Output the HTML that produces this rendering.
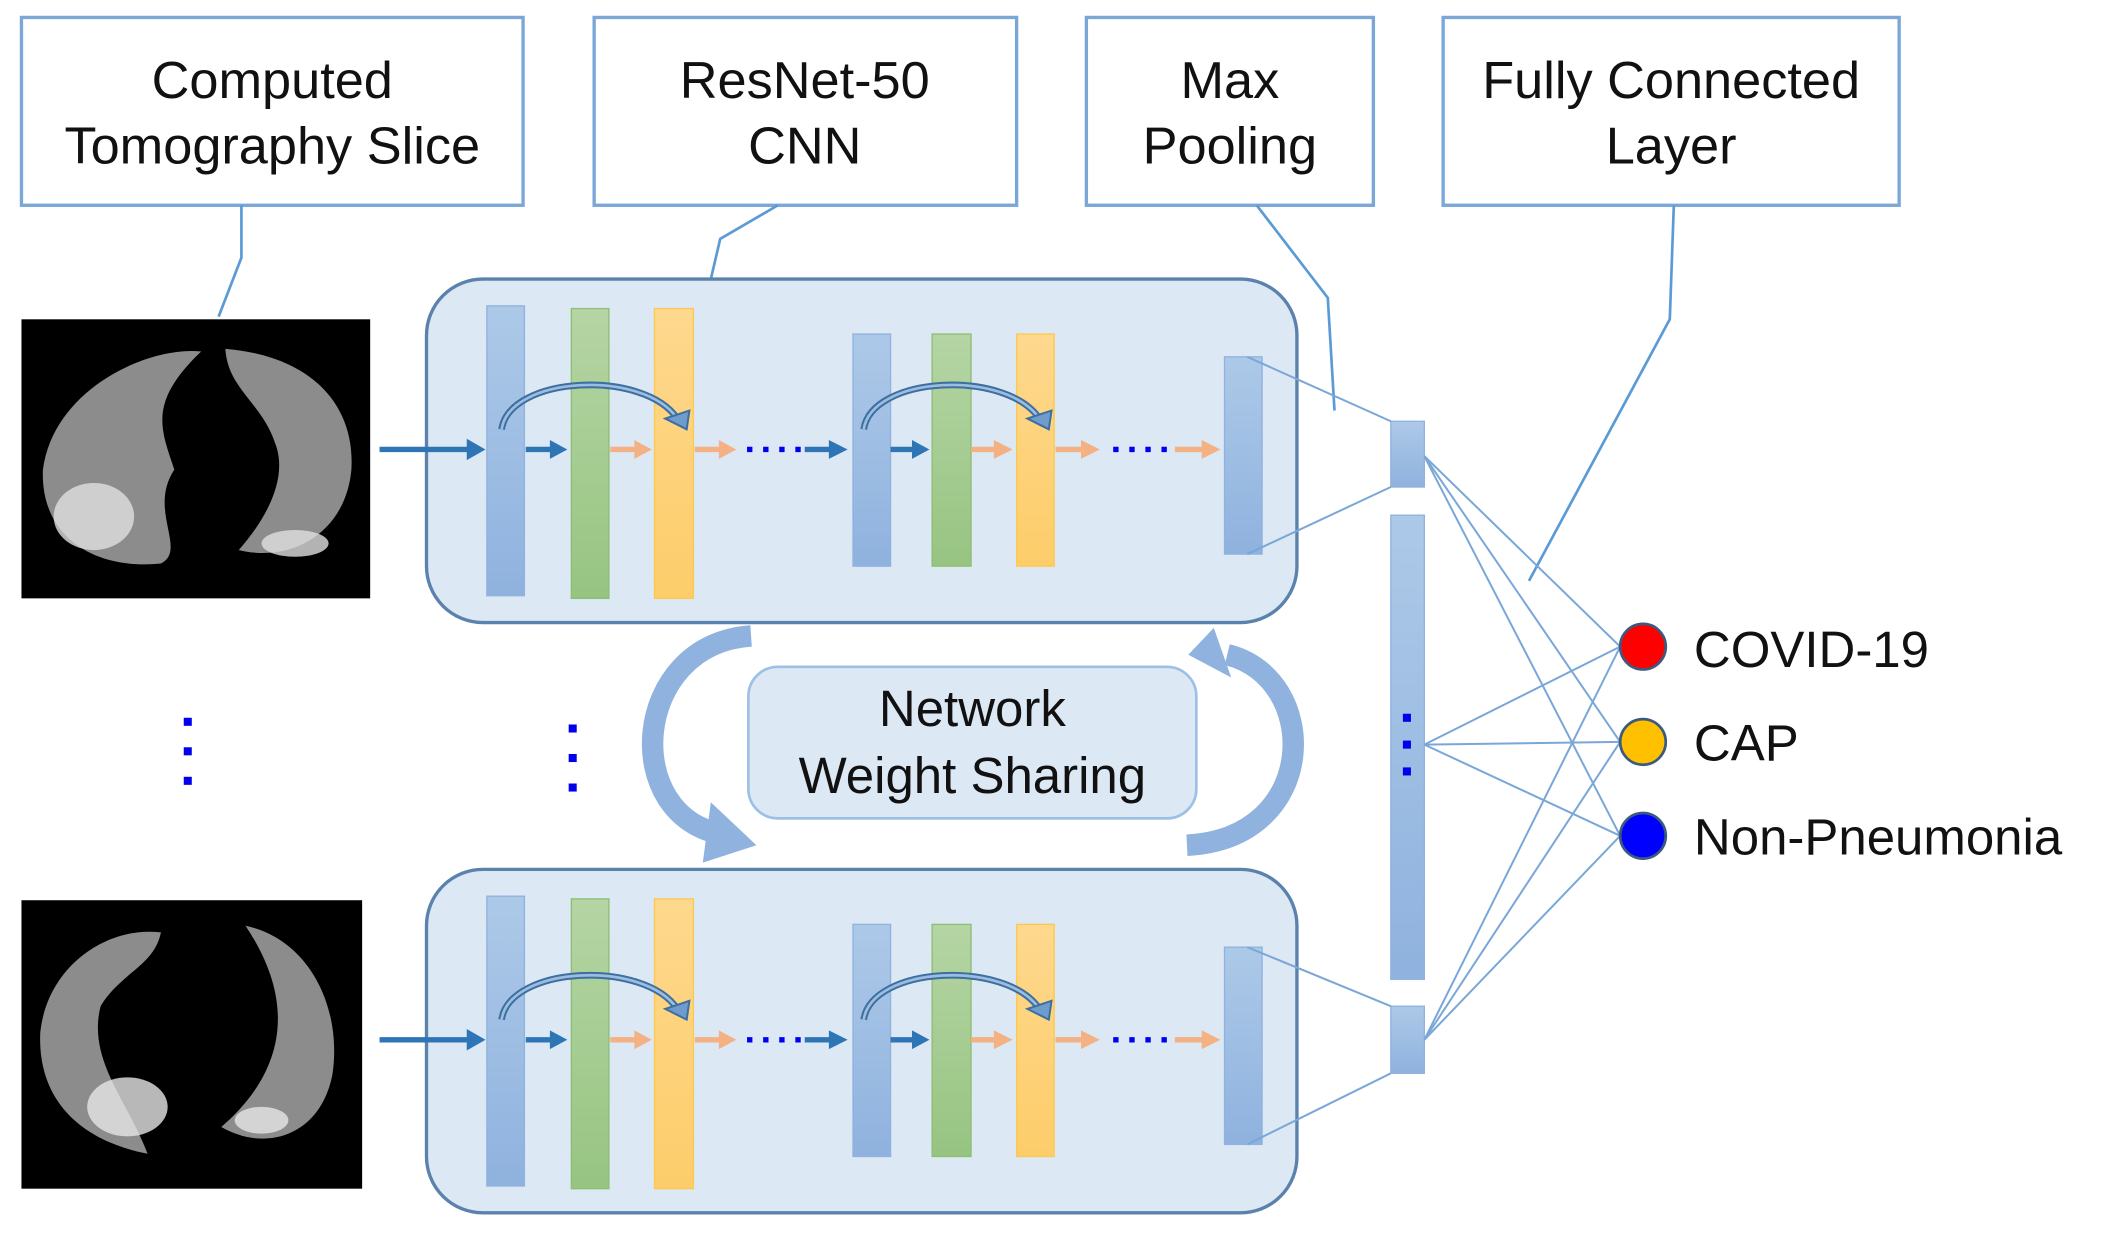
<!DOCTYPE html>
<html><head><meta charset="utf-8"><style>
html,body{margin:0;padding:0;background:#fff;}
svg{display:block;}
text{font-family:"Liberation Sans",Arial,sans-serif;fill:#111;}
</style></head><body>
<svg width="2103" height="1241" viewBox="0 0 1568 925" preserveAspectRatio="none" xmlns="http://www.w3.org/2000/svg">
<defs>
<linearGradient id="bg" x1="0" y1="0" x2="0" y2="1"><stop offset="0" stop-color="#adc9e8"/><stop offset="1" stop-color="#8fb2de"/></linearGradient>
<linearGradient id="gg" x1="0" y1="0" x2="0" y2="1"><stop offset="0" stop-color="#b5d5a4"/><stop offset="1" stop-color="#97c482"/></linearGradient>
<linearGradient id="yg" x1="0" y1="0" x2="0" y2="1"><stop offset="0" stop-color="#fed88e"/><stop offset="1" stop-color="#fdcd6a"/></linearGradient>
<g id="panel">
<rect x="318" y="208" width="649" height="256" rx="42" fill="#dde8f5" stroke="#5b82ad" stroke-width="2.5"/>
<rect x="363" y="228" width="28" height="216" fill="url(#bg)" stroke="#8fb2de"/>
<rect x="426" y="230" width="28" height="216" fill="url(#gg)" stroke="#8cbf72"/>
<rect x="488" y="230" width="29" height="216" fill="url(#yg)" stroke="#fcc94f"/>
<rect x="636" y="249" width="28" height="173" fill="url(#bg)" stroke="#8fb2de"/>
<rect x="695" y="249" width="29" height="173" fill="url(#gg)" stroke="#8cbf72"/>
<rect x="758" y="249" width="28" height="173" fill="url(#yg)" stroke="#fcc94f"/>
<rect x="913" y="266" width="28" height="147" fill="url(#bg)" stroke="#8fb2de"/>
<g stroke-width="4">
<line x1="283" y1="335" x2="350" y2="335" stroke="#2e75b6"/><polygon points="348,327 362,335 348,343" fill="#2e75b6"/>
<line x1="392" y1="335" x2="412" y2="335" stroke="#2e75b6"/><polygon points="410,328 423,335 410,342" fill="#2e75b6"/>
<line x1="455" y1="335" x2="475" y2="335" stroke="#f4b183"/><polygon points="473,328 486,335 473,342" fill="#f4b183"/>
<line x1="518" y1="335" x2="538" y2="335" stroke="#f4b183"/><polygon points="536,328 549,335 536,342" fill="#f4b183"/>
<line x1="557" y1="335" x2="600" y2="335" stroke="#0000ee" stroke-dasharray="4,8"/>
<line x1="600" y1="335" x2="620" y2="335" stroke="#2e75b6"/><polygon points="618,328 632,335 618,342" fill="#2e75b6"/>
<line x1="664" y1="335" x2="682" y2="335" stroke="#2e75b6"/><polygon points="680,328 693,335 680,342" fill="#2e75b6"/>
<line x1="724" y1="335" x2="743" y2="335" stroke="#f4b183"/><polygon points="741,328 755,335 741,342" fill="#f4b183"/>
<line x1="787" y1="335" x2="808" y2="335" stroke="#f4b183"/><polygon points="806,328 820,335 806,342" fill="#f4b183"/>
<line x1="830" y1="335" x2="872" y2="335" stroke="#0000ee" stroke-dasharray="4,8"/>
<line x1="876" y1="335" x2="898" y2="335" stroke="#f4b183"/><polygon points="896,328 910,335 896,342" fill="#f4b183"/>
</g>
<path d="M374,320 C380,280 480,275 505,312" fill="none" stroke="#3d6fa0" stroke-width="5"/>
<path d="M374,320 C380,280 480,275 505,312" fill="none" stroke="#9cbde0" stroke-width="2"/>
<polygon points="496,312 512,320 514,306" fill="#6f9ccc" stroke="#3d6fa0" stroke-width="1.5"/>
<path d="M644,320 C650,280 750,275 775,312" fill="none" stroke="#3d6fa0" stroke-width="5"/>
<path d="M644,320 C650,280 750,275 775,312" fill="none" stroke="#9cbde0" stroke-width="2"/>
<polygon points="766,312 782,320 784,306" fill="#6f9ccc" stroke="#3d6fa0" stroke-width="1.5"/>
</g>
</defs>

<g fill="#fff" stroke="#7aa7d8" stroke-width="2.5">
<rect x="16" y="13" width="374" height="140"/>
<rect x="443" y="13" width="315" height="140"/>
<rect x="810" y="13" width="214" height="140"/>
<rect x="1076" y="13" width="340" height="140"/>
</g>
<g font-size="39" text-anchor="middle">
<text x="203" y="73">Computed</text><text x="203" y="122">Tomography Slice</text>
<text x="600" y="73">ResNet-50</text><text x="600" y="122">CNN</text>
<text x="917" y="73">Max</text><text x="917" y="122">Pooling</text>
<text x="1246" y="73">Fully Connected</text><text x="1246" y="122">Layer</text>
</g>
<g fill="none" stroke="#5b9bd5" stroke-width="2">
<polyline points="180,153 180,192 163,236"/>
<polyline points="580,153 537,178 530,208"/>
<polyline points="937,153 990,222 995,306"/>
<polyline points="1248,153 1245,238 1140,433"/>
</g>

<rect x="16" y="238" width="260" height="208" fill="#000"/>
<g fill="#8c8c8c">
<path d="M150,262 C110,258 40,290 32,350 C30,400 70,425 120,420 C140,410 110,380 130,350 C120,320 110,300 150,262Z"/>
<path d="M168,260 C230,265 265,300 262,350 C258,395 220,420 178,410 C200,385 215,355 205,330 C195,300 170,290 168,260Z"/>
</g>
<g fill="#e0e0e0" opacity="0.8"><ellipse cx="70" cy="385" rx="30" ry="25"/><ellipse cx="220" cy="405" rx="25" ry="10"/></g>
<rect x="16" y="671" width="254" height="215" fill="#000"/>
<g fill="#8c8c8c">
<path d="M120,695 C80,690 35,720 30,770 C28,820 60,850 110,860 C95,820 65,790 75,750 C90,725 115,720 120,695Z"/>
<path d="M183,690 C230,700 255,750 248,800 C240,845 200,860 165,840 C200,810 230,760 183,690Z"/>
</g>
<g fill="#e6e6e6" opacity="0.8"><ellipse cx="95" cy="825" rx="30" ry="22"/><ellipse cx="195" cy="835" rx="20" ry="10"/></g>

<g fill="#0000ee">
<rect x="137" y="535" width="6" height="6"/><rect x="137" y="557" width="6" height="6"/><rect x="137" y="579" width="6" height="6"/>
<rect x="424" y="540" width="6" height="6"/><rect x="424" y="562" width="6" height="6"/><rect x="424" y="584" width="6" height="6"/>
</g>

<use href="#panel"/>
<use href="#panel" transform="translate(0,440)"/>

<rect x="558" y="497" width="334" height="113" rx="22" fill="#dde8f5" stroke="#9dc0e6" stroke-width="2"/>
<g font-size="38" text-anchor="middle"><text x="725" y="541">Network</text><text x="725" y="591">Weight Sharing</text></g>
<path d="M560,474 C470,480 462,610 540,622" fill="none" stroke="#8fb2de" stroke-width="16"/>
<polygon points="530,598 564,630 524,643" fill="#8fb2de"/>
<path d="M885,630 C985,625 985,505 915,488" fill="none" stroke="#8fb2de" stroke-width="16"/>
<polygon points="886,488 905,468 918,505" fill="#8fb2de"/>

<rect x="1037" y="314" width="25" height="49" fill="url(#bg)" stroke="#8fb2de"/>
<rect x="1037" y="384" width="25" height="346" fill="url(#bg)" stroke="#8fb2de"/>
<rect x="1037" y="750" width="25" height="50" fill="url(#bg)" stroke="#8fb2de"/>
<g fill="#0000ee"><rect x="1046" y="532" width="6" height="6"/><rect x="1046" y="552" width="6" height="6"/><rect x="1046" y="572" width="6" height="6"/></g>
<g stroke="#7aa7d8" stroke-width="1.5">
<line x1="930" y1="266" x2="1037" y2="314"/><line x1="930" y1="413" x2="1037" y2="363"/>
<line x1="930" y1="706" x2="1037" y2="750"/><line x1="930" y1="853" x2="1037" y2="800"/>
<line x1="1062" y1="340" x2="1208" y2="482"/><line x1="1062" y1="340" x2="1208" y2="553"/><line x1="1062" y1="340" x2="1208" y2="623"/>
<line x1="1062" y1="555" x2="1208" y2="482"/><line x1="1062" y1="555" x2="1208" y2="553"/><line x1="1062" y1="555" x2="1208" y2="623"/>
<line x1="1062" y1="775" x2="1208" y2="482"/><line x1="1062" y1="775" x2="1208" y2="553"/><line x1="1062" y1="775" x2="1208" y2="623"/>
</g>
<circle cx="1225" cy="482" r="17" fill="#ff0000" stroke="#3c5a80" stroke-width="2"/>
<circle cx="1225" cy="553" r="17" fill="#ffc000" stroke="#3c5a80" stroke-width="2"/>
<circle cx="1225" cy="623" r="17" fill="#0000ff" stroke="#3c5a80" stroke-width="2"/>
<g font-size="38"><text x="1263" y="497">COVID-19</text><text x="1263" y="567">CAP</text><text x="1263" y="637">Non-Pneumonia</text></g>
</svg>
</body></html>
